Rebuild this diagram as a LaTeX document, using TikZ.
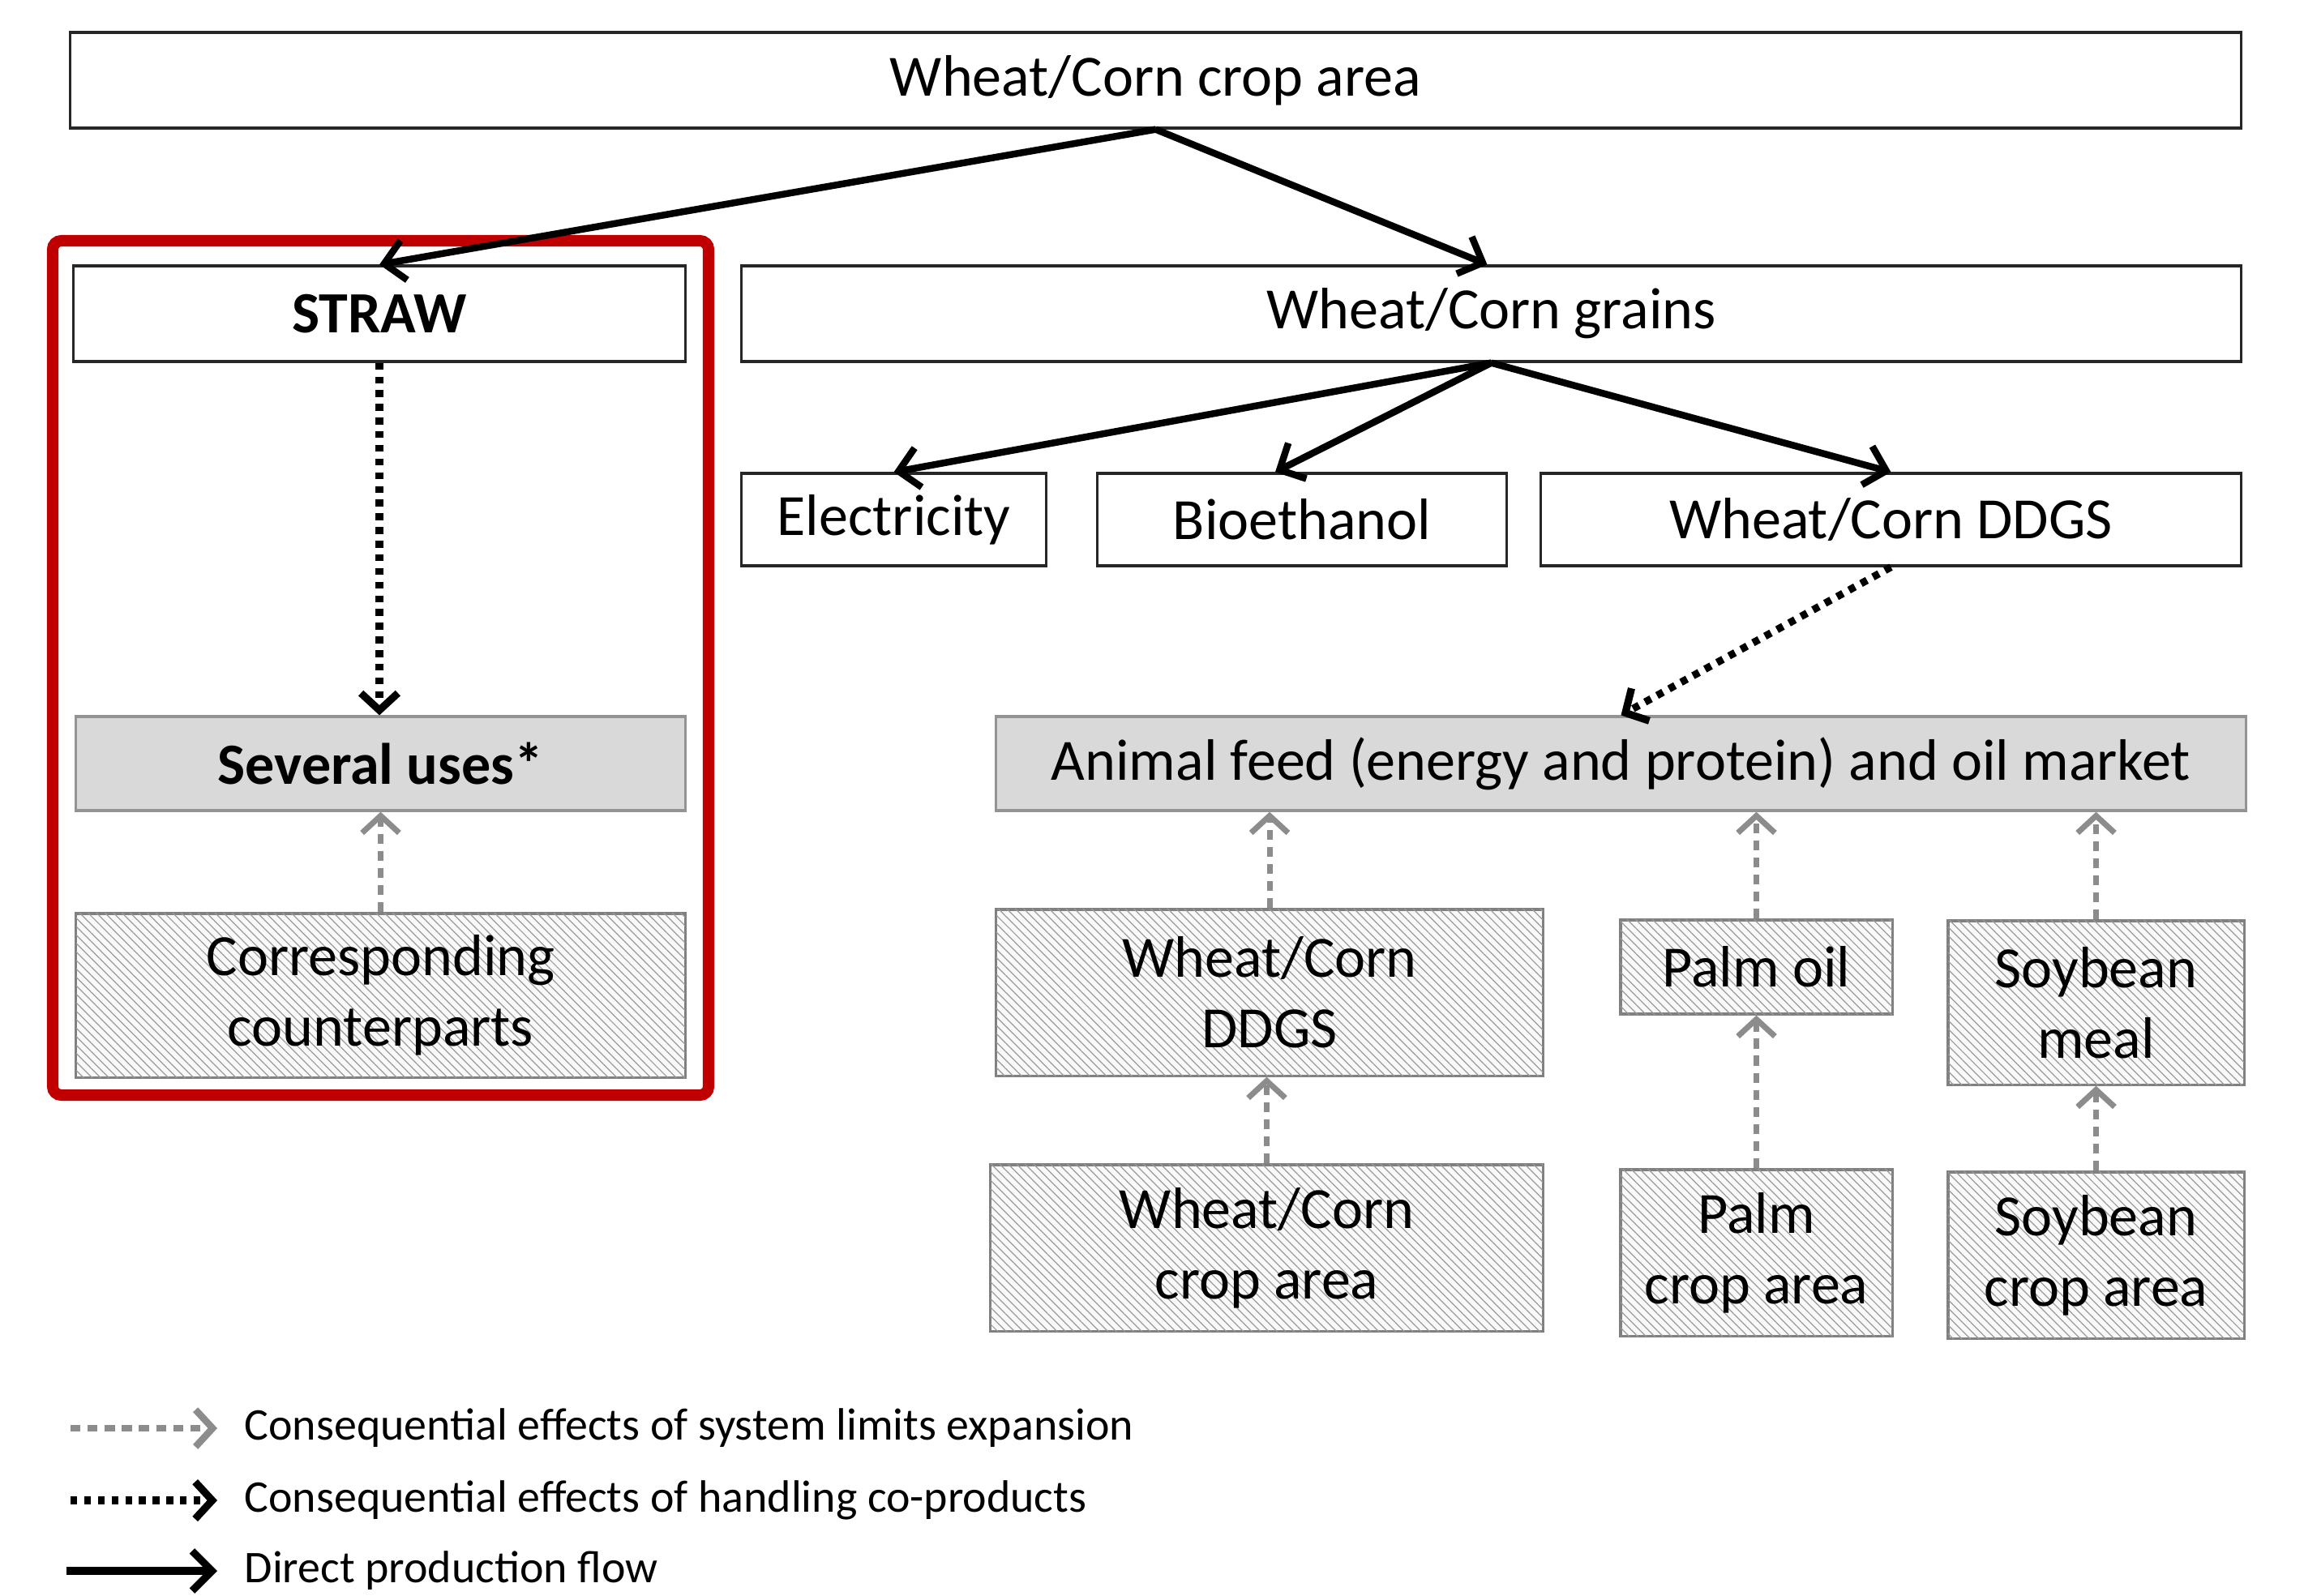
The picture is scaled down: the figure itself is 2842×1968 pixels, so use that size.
\documentclass[tikz,border=0pt]{standalone}
\usepackage{fontspec}
\setmainfont{Carlito}
\usetikzlibrary{arrows.meta,patterns.meta}

\definecolor{redframe}{HTML}{C00000}
\definecolor{fillgray}{HTML}{D9D9D9}
\definecolor{arrgray}{HTML}{8C8C8C}
\definecolor{hatchline}{HTML}{9A9A9A}

\tikzset{
  box/.style={draw=black!85, line width=0.9pt, fill=white, inner sep=0pt, align=center,
    font=\fontsize{20.5}{24.7}\selectfont},
  graybox/.style={box, draw=gray!85, fill=fillgray},
  hatchbox/.style={box, draw=gray, fill=gray!5,
    postaction={pattern color=hatchline, pattern={Lines[angle=-45,distance=2.1pt,line width=0.35pt]}}},
  solidarr/.style={line width=2.4pt, -{Straight Barb[length=7pt,width=14pt]}},
  blackdot/.style={line width=2.6pt, dash pattern=on 2.4pt off 2.4pt, -{Straight Barb[length=6pt,width=13pt]}},
  graydot/.style={arrgray, line width=2pt, dash pattern=on 3.5pt off 2.5pt, -{Straight Barb[length=6pt,width=13pt]}},
  legtext/.style={anchor=west, inner sep=0pt, font=\fontsize{15.9}{18}\selectfont}
}

\begin{document}
\begin{tikzpicture}[x=0.01cm, y=-0.01cm]
\useasboundingbox (0,0) rectangle (2842,1968);

% red frame
\draw[redframe, line width=4pt, rounded corners=3pt] (65,297) rectangle (874,1351);

% boxes
\node[box, minimum width=26.77cm, minimum height=1.18cm] (top) at (1425.5,99) {Wheat/Corn crop area};
\node[box, minimum width=7.54cm, minimum height=1.18cm] (straw) at (468,387) {\bfseries STRAW};
\node[box, minimum width=18.49cm, minimum height=1.18cm] (grains) at (1839.5,387) {Wheat/Corn grains};
\node[box, minimum width=3.75cm, minimum height=1.14cm] (elec) at (1102.5,641) {Electricity};
\node[box, minimum width=5.04cm, minimum height=1.14cm] (bio) at (1606,641) {Bioethanol};
\node[box, minimum width=8.63cm, minimum height=1.14cm] (ddgs) at (2332.5,641) {Wheat/Corn DDGS};

\node[graybox, minimum width=7.51cm, minimum height=1.16cm] (several) at (469.5,942) {\bfseries Several uses*};
\node[graybox, minimum width=15.41cm, minimum height=1.16cm] (animal) at (1999.5,942) {Animal feed (energy and protein) and oil market};

\node[hatchbox, minimum width=7.51cm, minimum height=2.02cm] (counter) at (469.5,1228) {Corresponding\\counterparts};
\node[hatchbox, minimum width=6.74cm, minimum height=2.05cm] (ddgs2) at (1566,1224.5) {Wheat/Corn\\DDGS};
\node[hatchbox, minimum width=3.35cm, minimum height=1.16cm] (palmoil) at (2166.5,1193) {Palm oil};
\node[hatchbox, minimum width=3.65cm, minimum height=2.02cm] (soymeal) at (2585.5,1237) {Soybean\\meal};
\node[hatchbox, minimum width=6.81cm, minimum height=2.05cm] (wccrop) at (1562.5,1539.5) {Wheat/Corn\\crop area};
\node[hatchbox, minimum width=3.35cm, minimum height=2.05cm] (palmcrop) at (2166.5,1545.5) {Palm\\crop area};
\node[hatchbox, minimum width=3.65cm, minimum height=2.05cm] (soycrop) at (2585.5,1548.5) {Soybean\\crop area};

% direct flows
\draw[solidarr] (top.south) -- (straw.north);
\draw[solidarr] (top.south) -- ([xshift=-0.05cm]grains.north);
\draw[solidarr] (grains.south) -- (elec.north);
\draw[solidarr] (grains.south) -- ([xshift=-0.33cm]bio.north);
\draw[solidarr] (grains.south) -- (ddgs.north);

% co-product handling
\draw[blackdot] (straw.south) -- (straw.south |- several.north);
\draw[blackdot] (ddgs.south) -- (animal.north);

% system expansion
\draw[graydot] (counter.north) -- (counter.north |- several.south);
\draw[graydot] (ddgs2.north) -- (ddgs2.north |- animal.south);
\draw[graydot] (palmoil.north) -- (palmoil.north |- animal.south);
\draw[graydot] (soymeal.north) -- (soymeal.north |- animal.south);
\draw[graydot] (wccrop.north) -- (wccrop.north |- ddgs2.south);
\draw[graydot] (palmcrop.north) -- (palmoil.south);
\draw[graydot] (soycrop.north) -- (soymeal.south);

% legend
\coordinate (l1s) at (87,1762);  \coordinate (l1e) at (268,1762);
\coordinate (l2s) at (87,1851);  \coordinate (l2e) at (268,1851);
\coordinate (l3s) at (82,1938);  \coordinate (l3e) at (268,1938);
\draw[graydot, line width=2.4pt] (l1s) -- (l1e);
\draw[blackdot] (l2s) -- (l2e);
\draw[solidarr, line width=2.6pt] (l3s) -- (l3e);
\node[legtext] (t1) at (301,1762) {Consequential effects of system limits expansion};
\node[legtext] (t2) at (301,1851) {Consequential effects of handling co-products};
\node[legtext] (t3) at (301,1938) {Direct production flow};
\end{tikzpicture}
\end{document}
